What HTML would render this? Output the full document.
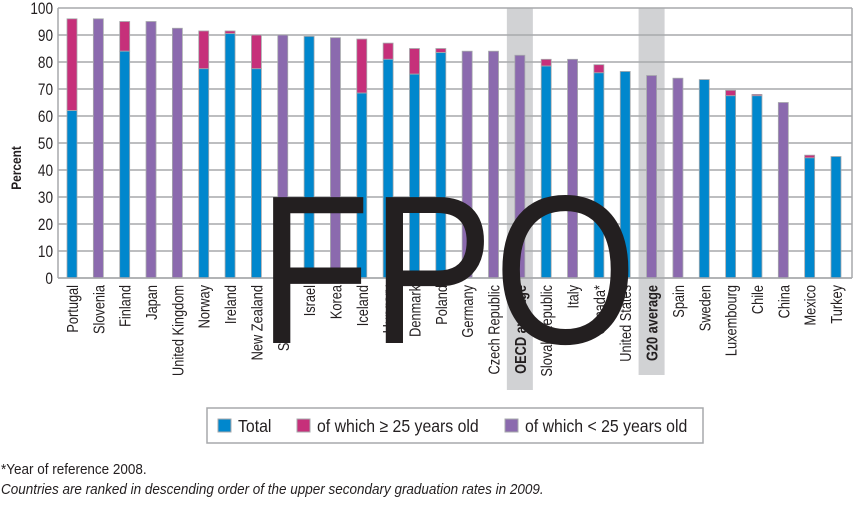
<!DOCTYPE html>
<html><head><meta charset="utf-8"><style>
body{margin:0;background:#fff;width:853px;height:500px;overflow:hidden;font-family:"Liberation Sans",sans-serif}
svg text{font-family:"Liberation Sans",sans-serif}
</style></head><body>
<svg id="c" width="853" height="500"></svg>
<script>
const categories=["Portugal","Slovenia","Finland","Japan","United Kingdom","Norway","Ireland","New Zealand","Switzerland","Israel","Korea","Iceland","Hungary","Denmark","Poland","Germany","Czech Republic","OECD average","Slovak Republic","Italy","Canada*","United States","G20 average","Spain","Sweden","Luxembourg","Chile","China","Mexico","Turkey"];
const totalValues=[96,96,95,95,92.5,91.5,91.5,90,90,89.5,89,88.5,87,85,85,84,84,82.5,81,81,79,76.5,75,74,73.5,69.5,68,65,45.5,45];
const under25Values=[62,null,84,null,null,77.5,90.5,77.5,null,89.5,null,68.5,81,75.5,83.5,null,null,null,78.5,null,76,76.5,null,null,73.5,67.5,67.5,null,44.5,45];
const yTicks=[0,10,20,30,40,50,60,70,80,90,100];
const highlighted=["OECD average","G20 average"];
const NS="http://www.w3.org/2000/svg";
const svg=document.getElementById('c');
const L=58,R=852,T=8,B=278;
const y=v=>B-(v/100)*(B-T);
const step=(836-72)/29;
const x=i=>72+i*step;
function el(t,a,p){const e=document.createElementNS(NS,t);for(const k in a)e.setAttribute(k,a[k]);(p||svg).appendChild(e);return e;}
categories.forEach((c,i)=>{if(highlighted.includes(c)){
 const b=el('rect',{x:x(i)-13,y:T,width:26,height:c==="OECD average"?382:367,fill:"#d1d2d4"});
 
 
}});
yTicks.forEach(t=>{
 const g=el('line',{x1:L,x2:R,y1:y(t),y2:y(t),stroke:"#a7a9ac","stroke-width":1.5});
 
 
 const tx=el('text',{x:0,y:0,transform:`translate(53,${y(t)+6}) scale(0.8,1)`,"text-anchor":"end","font-size":17,fill:"#231f20"});
 tx.textContent=t;
 
 
});
el('line',{x1:R,x2:R,y1:T,y2:B,stroke:"#a7a9ac","stroke-width":1.5});
el('line',{x1:L,x2:L,y1:T,y2:B,stroke:"#a7a9ac","stroke-width":1.5});
const yt=el('text',{x:0,y:0,transform:"translate(21,168) rotate(-90) scale(0.85,1)","text-anchor":"middle","font-size":14,"font-weight":"bold",fill:"#231f20"});
yt.textContent="Percent";


const bw=10;
categories.forEach((c,i)=>{
 const tot=totalValues[i],u=under25Values[i];
 let r;
 if(u===null){
  r=el('rect',{x:x(i)-bw/2,y:y(tot),width:bw,height:B-y(tot),fill:"#8b6aae",stroke:"#a7a9ac","stroke-width":0.8});
  
  
 } else {
  if(tot>u){
   r=el('rect',{x:x(i)-bw/2,y:y(tot),width:bw,height:y(u)-y(tot),fill:"#c6307a",stroke:"#a7a9ac","stroke-width":0.8});
   
   
  }
  r=el('rect',{x:x(i)-bw/2,y:y(u),width:bw,height:B-y(u),fill:"#0087cd",stroke:"#a7a9ac","stroke-width":0.8});
  
  
 }
 const hl=highlighted.includes(c);
 const lb=el('text',{x:0,y:0,transform:`translate(${x(i)+6},285) rotate(-90) scale(0.8,1)`,"text-anchor":"end","font-size":16,"font-weight":hl?"bold":"normal",fill:"#231f20"});
 lb.textContent=c;
 
 
});
el('line',{x1:L,x2:R,y1:B,y2:B,stroke:"#a7a9ac","stroke-width":1.5});
const f=el('text',{x:0,y:0,transform:"translate(258,343) scale(0.87,1)","font-size":212,fill:"#231f20"});
f.textContent="FPO";


const lg=el('g',{});


el('rect',{x:207,y:408,width:496,height:35,fill:"#fff",stroke:"#a7a9ac","stroke-width":1.5},lg);
[["#0087cd","Total",218],["#c6307a","of which \u2265 25 years old",297],["#8b6aae","of which < 25  years old",505]].forEach(d=>{
 const s=el('rect',{x:d[2],y:419,width:13,height:13,fill:d[0],stroke:"#a7a9ac"},lg);
 
 
 const t=el('text',{x:0,y:0,transform:`translate(${d[2]+20},432) scale(0.88,1)`,"font-size":18,fill:"#231f20"},lg);
 t.textContent=d[1];
 
 
});
const n1=el('text',{x:0,y:0,transform:"translate(1,474) scale(0.9,1)","font-size":15,fill:"#231f20"});
n1.textContent="*Year of reference 2008.";


const n2=el('text',{x:0,y:0,transform:"translate(1,494) scale(0.9,1)","font-size":15,"font-style":"italic",fill:"#231f20"});
n2.textContent="Countries are ranked in descending order of the upper secondary graduation rates in 2009.";


</script>
</body></html>
